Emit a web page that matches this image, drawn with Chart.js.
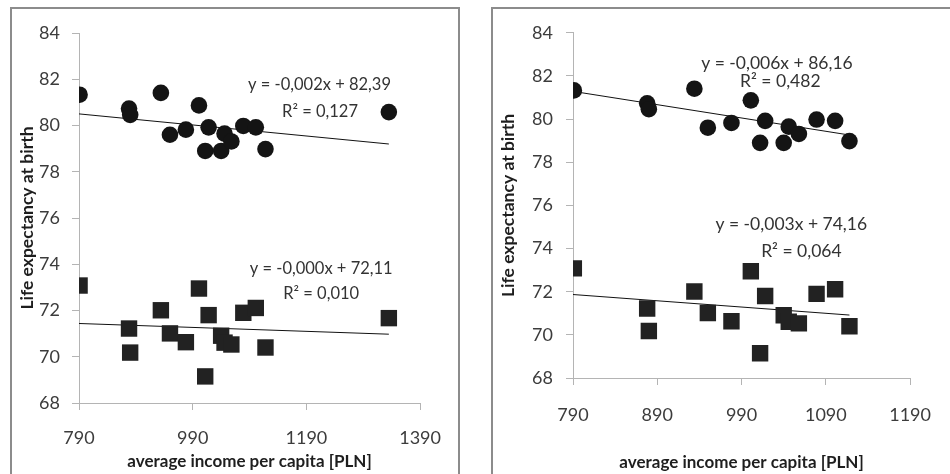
<!DOCTYPE html>
<html>
<head>
<meta charset="utf-8">
<script src="https://cdn.jsdelivr.net/npm/chart.js@4/dist/chart.umd.min.js"></script>
<style>
	body { margin: 0; background: #fff; width: 950px; height: 474px; overflow: hidden; position: relative; }
	.panel { position: absolute; border: 2px solid #8c8c8c; box-sizing: border-box; }
	canvas { position: absolute; }
</style>
</head>
<body>
<div class="panel" style="left:10px; top:7px; width:450px; height:500px;"></div>
<div class="panel" style="left:491px; top:7px; width:480px; height:500px;"></div>
<canvas id="left" style="left:12px; top:9px;"></canvas>
<canvas id="right" style="left:493px; top:9px;"></canvas>
<script>
// average income per capita [PLN], one entry per region
const income = [791, 878, 880, 934, 950, 978, 1001, 1012, 1018, 1040, 1046, 1058, 1079, 1101, 1118, 1335];
// life expectancy at birth, women (circles) and men (squares)
const lifeWomen = [81.33, 80.73, 80.46, 81.41, 79.60, 79.82, 80.87, 78.90, 79.92, 78.90, 79.65, 79.31, 79.98, 79.92, 78.98, 80.58];
const lifeMen = [73.08, 71.22, 70.18, 72.01, 71.01, 70.63, 72.95, 69.15, 71.80, 70.91, 70.61, 70.53, 71.90, 72.11, 70.40, 71.67];

// the right chart leaves out the last (highest income) region
const rightCount = 15;

// linear trends [women, men]
const leftIntercepts = [82.39, 72.11];
const leftSlopes = [-0.00239, -0.00085];
const rightIntercepts = [86.16, 74.16];
const rightSlopes = [-0.00617, -0.0029];

const leftEquations = ['y = -0,002x + 82,39', 'y = -0,000x + 72,11'];
const leftR2 = ['R\u00b2 = 0,127', 'R\u00b2 = 0,010'];
const rightEquations = ['y = -0,006x + 86,16', 'y = -0,003x + 74,16'];
const rightR2 = ['R\u00b2 = 0,482', 'R\u00b2 = 0,064'];

const yTicks = [68, 70, 72, 74, 76, 78, 80, 82, 84];
const leftXTicks = [790, 990, 1190, 1390];
const rightXTicks = [790, 890, 990, 1090, 1190];

const FONT = 'Lato, "Open Sans", sans-serif';

const points = (xs, ys) => xs.map((x, i) => ({ x: x, y: ys[i] }));
const trend = (xs, a, b) => [
	{ x: 790, y: a + b * 790 },
	{ x: xs[xs.length - 1], y: a + b * xs[xs.length - 1] }
];

// writes the trend equations at data positions
const eqLabels = {
	id: 'eqLabels',
	afterDatasetsDraw(chart, args, opts) {
		const ctx = chart.ctx, xs = chart.scales.x, ys = chart.scales.y;
		ctx.save();
		ctx.fillStyle = '#333';
		ctx.font = opts.size + 'px ' + FONT;
		ctx.textAlign = 'center';
		ctx.textBaseline = 'middle';
		for (let l of opts.items)
			ctx.fillText(l.text, xs.getPixelForValue(l.x), ys.getPixelForValue(l.y));
		ctx.restore();
	}
};

function makeChart(id, w, h, xs, women, men, xTicks, xmax, trends, labels, geo) {
	const canvas = document.getElementById(id);
	canvas.width = w;
	canvas.height = h;
	return new Chart(canvas, {
		type: 'scatter',
		data: {
			datasets: [{
				data: points(xs, women),
				pointStyle: 'circle',
				pointRadius: 8.3,
				backgroundColor: '#141414',
				borderColor: '#141414',
				borderWidth: 0
			}, {
				data: points(xs, men),
				pointStyle: 'rect',
				pointRadius: 11.6,
				backgroundColor: '#222',
				borderColor: '#222',
				borderWidth: 0
			}, {
				type: 'line',
				data: trends[0],
				borderColor: '#111',
				borderWidth: 1,
				pointRadius: 0
			}, {
				type: 'line',
				data: trends[1],
				borderColor: '#111',
				borderWidth: 1,
				pointRadius: 0
			}]
		},
		options: {
			responsive: false,
			animation: false,
			events: [],
			layout: { padding: { left: 0, top: geo.top, right: geo.right, bottom: 0 } },
			plugins: {
				legend: { display: false },
				tooltip: { enabled: false },
				eqLabels: { size: geo.labelSize, items: labels }
			},
			scales: {
				x: {
					type: 'linear',
					min: 790,
					max: xmax,
					afterBuildTicks: s => { s.ticks = xTicks.map(v => ({ value: v })); },
					afterFit: s => { s.height = geo.xh; },
					border: { color: '#b4b4b4', width: 1 },
					grid: { drawOnChartArea: false, drawTicks: true, tickLength: 7, color: '#b4b4b4' },
					ticks: { padding: geo.xpad, color: '#3c3c3c', font: { family: FONT, size: 18 }, callback: v => String(v), maxRotation: 0 },
					title: { display: true, text: 'average income per capita [PLN]', color: '#1e1e1e', font: { family: FONT, size: 17, weight: 'bold' }, padding: { top: 0, bottom: geo.xtpad } }
				},
				y: {
					type: 'linear',
					min: 68,
					max: 84,
					afterBuildTicks: s => { s.ticks = yTicks.map(v => ({ value: v })); },
					afterFit: s => { s.width = geo.yw; },
					border: { color: '#b4b4b4', width: 1 },
					grid: { drawOnChartArea: false, drawTicks: true, tickLength: 7, color: '#b4b4b4' },
					ticks: { padding: geo.ypad, color: '#3c3c3c', font: { family: FONT, size: 18 } },
					title: { display: true, text: 'Life expectancy at birth', color: '#1e1e1e', font: { family: FONT, size: 17.5, weight: 'bold' }, padding: { top: geo.ytpad, bottom: 0 } }
				}
			}
		},
		plugins: [eqLabels]
	});
}

makeChart('left', 446, 465, income, lifeWomen, lifeMen, leftXTicks, 1390,
	[trend(income, leftIntercepts[0], leftSlopes[0]), trend(income, leftIntercepts[1], leftSlopes[1])],
	[
		{ text: leftEquations[0], x: 1213, y: 81.75 },
		{ text: leftR2[0], x: 1214, y: 80.6 },
		{ text: leftEquations[1], x: 1216, y: 73.81 },
		{ text: leftR2[1], x: 1216, y: 72.72 }
	],
	{ top: 24, right: 30, xh: 71, yw: 67, xpad: 17, ypad: 12, xtpad: 2, ytpad: 5, labelSize: 16.5 });

const rIncome = income.slice(0, rightCount);
makeChart('right', 457, 465, rIncome, lifeWomen.slice(0, rightCount), lifeMen.slice(0, rightCount), rightXTicks, 1190,
	[trend(rIncome, rightIntercepts[0], rightSlopes[0]), trend(rIncome, rightIntercepts[1], rightSlopes[1])],
	[
		{ text: rightEquations[0], x: 1032, y: 82.57 },
		{ text: rightR2[0], x: 1036, y: 81.75 },
		{ text: rightEquations[1], x: 1049, y: 75.1 },
		{ text: rightR2[1], x: 1061, y: 73.85 }
	],
	{ top: 23, right: 24, xh: 96, yw: 80, xpad: 19, ypad: 13, xtpad: 1, ytpad: 5, labelSize: 17.5 });
</script>
</body>
</html>
